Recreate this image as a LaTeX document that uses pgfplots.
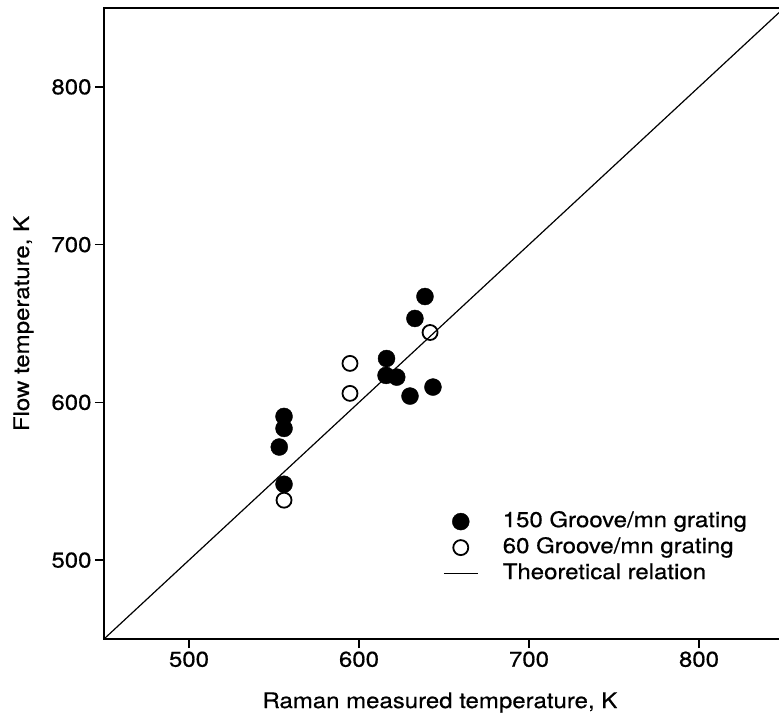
\documentclass[border=0pt]{standalone}
\usepackage{fontspec}
\setmainfont{TeX Gyre Heros}[FakeStretch=1.12, FakeBold=0.6]
\usepackage{pgfplots}
\pgfplotsset{compat=1.18}
\pgfplotsset{
  mylegmark/.style={legend image code/.code={\draw[##1] plot[only marks] coordinates {(17bp,0bp)}; \path[draw=none,fill=none] (0bp,0bp) -- (59bp,0bp);}},
  myleglin/.style={legend image code/.code={\draw[##1] (0bp,0bp) -- (34bp,0bp); \path[draw=none,fill=none] (0bp,0bp) -- (59bp,0bp);}},
}
\begin{document}
\begin{tikzpicture}
\begin{axis}[
  scale only axis,
  width=680bp, height=631bp,
  xmin=450, xmax=850, ymin=450, ymax=850,
  xtick={500,600,700,800}, ytick={500,600,700,800},
  tick align=outside, tick pos=left,
  major tick length=9bp,
  every tick/.style={black, line width=1.5bp},
  axis line style={line width=2bp},
  /pgf/number format/assume math mode=true,
  tick label style={font=\fontsize{21.5}{25}\selectfont},
  label style={font=\fontsize{21.5}{25}\selectfont},
  xlabel={Raman measured temperature, K},
  ylabel={Flow temperature, K},
  xlabel style={at={(axis description cs:0.494,-0.1094)}, anchor=base},
  ylabel style={at={(axis description cs:-0.1103,0.5)}, anchor=base},
  legend cell align=left,
  legend style={at={(rel axis cs:0.4985,0.203)}, anchor=north west, draw=none, fill=none, inner sep=0pt,
    font=\fontsize{21.5}{25}\selectfont, row sep=5bp,
    nodes={inner sep=0pt, text height=16bp, text depth=5bp}},
]
\addplot[only marks, mark=*, mark size=8.5bp, black, mylegmark] coordinates {
(616.2,627.8) (615.9,617.1) (622.2,616.0) (630.0,604.0) (643.5,609.7)
(555.9,591.1) (555.9,583.5) (553.1,571.7) (555.9,548.1)
(632.9,653.2) (638.8,667.1)
};
\addlegendentry{150 Groove/mn grating}
\addplot[only marks, mark=o, mark size=7.5bp, black, line width=1.8bp, mylegmark] coordinates {
(594.7,624.7) (594.7,605.7) (555.9,538.0) (641.8,644.3)
};
\addlegendentry{60 Groove/mn grating}
\addplot[black, line width=1.2bp, myleglin] coordinates {(450,450) (850,850)};
\addlegendentry{Theoretical relation}
\coordinate (bl) at (rel axis cs:0,0);
\coordinate (tr) at (rel axis cs:1,1);
\end{axis}
\pgfresetboundingbox
\path[use as bounding box] ([shift={(-104bp,-79bp)}]bl) rectangle ([shift={(-5bp,8bp)}]tr);
\end{tikzpicture}
\end{document}
